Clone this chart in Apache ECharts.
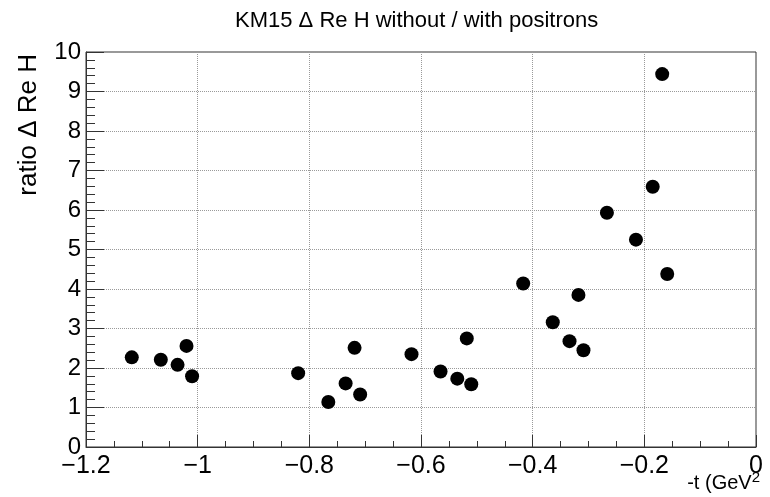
<!DOCTYPE html>
<html>
<head>
<meta charset="utf-8">
<title>KM15 ratio</title>
<script src="https://cdn.jsdelivr.net/npm/echarts@6/dist/echarts.min.js"></script>
<style>
  html, body { margin: 0; padding: 0; background: #fff; }
  #chart { width: 770px; height: 497px; }
</style>
</head>
<body>
<div id="chart"></div>
<script>
// data
const tValues = [-1.118, -1.066, -1.036, -1.020, -1.010, -0.820, -0.766, -0.735, -0.719, -0.709,
  -0.617, -0.565, -0.535, -0.518, -0.510, -0.417, -0.364, -0.334, -0.318, -0.309,
  -0.267, -0.215, -0.185, -0.159, -0.168];
const ratioValues = [2.27, 2.21, 2.08, 2.56, 1.79, 1.87, 1.14, 1.61, 2.51, 1.33,
  2.35, 1.91, 1.73, 2.75, 1.59, 4.14, 3.16, 2.68, 3.85, 2.45,
  5.93, 5.25, 6.59, 4.38, 9.44];

const titleText = 'KM15 \u0394 Re H without / with positrons';
const yTitle = 'ratio \u0394 Re H';

const FONT = '"Liberation Sans", Arial, sans-serif';

const points = tValues.map((t, i) => [t, ratioValues[i]]);

const chart = echarts.init(document.getElementById('chart'));

// ROOT style: minus sign for negatives
function fmtX(v) {
  const r = parseFloat(v.toFixed(1));
  if (r === 0) return '0';
  return r < 0 ? '\u2212' + Math.abs(r) : String(r);
}

const gridLine = { show: true, lineStyle: { color: '#9a9a9a', width: 1, type: [1, 1] } };

chart.setOption({
  animation: false,
  title: {
    text: titleText,
    left: 230,
    top: 5,
    textStyle: { fontFamily: FONT, fontSize: 22, fontWeight: 'normal', color: '#000' }
  },
  grid: {
    left: 86, right: 14, top: 52, bottom: 50,
    show: true, borderColor: '#333', borderWidth: 1, backgroundColor: 'transparent'
  },
  xAxis: {
    type: 'value',
    min: -1.2, max: 0, interval: 0.2,
    axisLine: { show: true, onZero: false, lineStyle: { color: '#333', width: 1 } },
    axisTick: { show: true, inside: true, length: 12, lineStyle: { color: '#333' } },
    minorTick: { show: true, splitNumber: 4, length: 6, lineStyle: { color: '#333' } },
    splitLine: gridLine,
    axisLabel: {
      formatter: fmtX, margin: 7, color: '#000',
      fontFamily: FONT, fontSize: 25,
      showMinLabel: true, showMaxLabel: true
    }
  },
  yAxis: {
    type: 'value',
    min: 0, max: 10, interval: 1,
    axisLine: { show: true, onZero: false, lineStyle: { color: '#333', width: 1 } },
    axisTick: { show: true, inside: true, length: 18, lineStyle: { color: '#333' } },
    minorTick: { show: true, splitNumber: 5, length: 9, lineStyle: { color: '#333' } },
    splitLine: gridLine,
    axisLabel: { margin: 5, color: '#000', fontFamily: FONT, fontSize: 24 }
  },
  graphic: [
    {
      type: 'text',
      x: 29, y: 54,
      rotation: Math.PI / 2,
      style: {
        text: yTitle, fill: '#000',
        font: '26px ' + FONT,
        align: 'right', verticalAlign: 'middle'
      }
    },
    {
      type: 'text',
      x: 760, y: 497,
      style: {
        text: '-t (GeV{s|2}',
        fill: '#000',
        font: '20px ' + FONT,
        align: 'right', verticalAlign: 'bottom',
        rich: { s: { fontSize: 15, fontFamily: FONT, verticalAlign: 'top', padding: [0, 0, 12, 0] } }
      }
    }
  ],
  series: [{
    type: 'scatter',
    data: points,
    symbol: 'circle',
    symbolSize: 14,
    itemStyle: { color: '#000', opacity: 1 }
  }]
});
</script>
</body>
</html>
